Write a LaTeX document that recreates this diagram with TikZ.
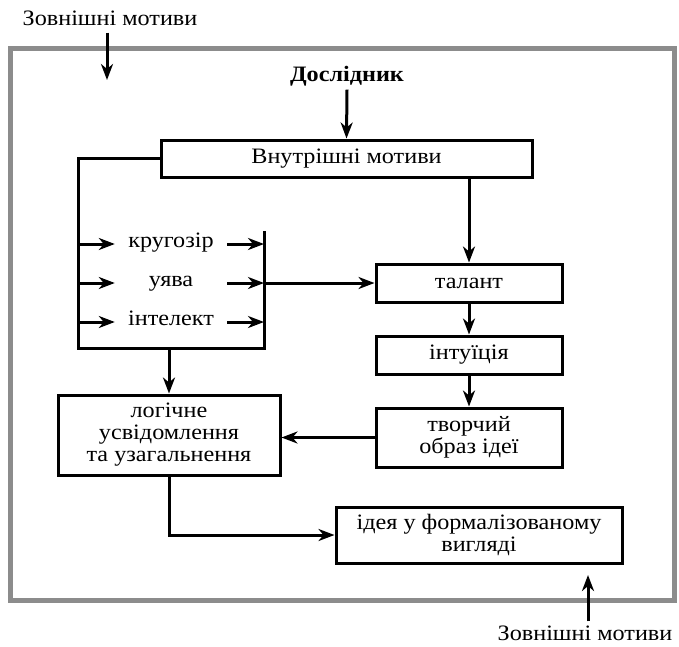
\documentclass[tikz,border=0pt]{standalone}
\usepackage{fontspec}
\setmainfont[FakeStretch=1.1]{Liberation Serif}
\usepackage{tikz}
\usetikzlibrary{arrows.meta, positioning, calc}

\tikzset{
  box/.style={draw, line width=3pt, align=center, inner sep=0pt},
  item/.style={minimum width=112pt, inner sep=0pt, text height=11pt, text depth=4pt},
  extlabel/.style={inner sep=1pt},
  link/.style={line width=3pt, -{Stealth[length=16pt,width=12pt,inset=5pt]}},
  wire/.style={line width=3pt}
}

\begin{document}
\begin{tikzpicture}[x=1pt,y=-1pt,font=\fontsize{22}{22}\selectfont]
\useasboundingbox (0,0) rectangle (679,646);
% Outer frame
\draw[line width=5pt,gray!90] (10,48) rectangle (674,600);
% External motives
\node[extlabel] (extTop) at (110,18) {Зовнішні мотиви};
\node[extlabel] (extBot) at (585,633) {Зовнішні мотиви};
\coordinate (topIn) at (107,80);
\coordinate (botIn) at (588,575);
\draw[link, shorten <=6pt] (extTop.south -| topIn) -- (topIn);
\draw[link, shorten <=3pt] (extBot.north -| botIn) -- (botIn);
% Researcher and inner motives
\node (res) at (347,76) {\bfseries Дослідник};
\node[box, minimum width=371pt, minimum height=37pt] (inner) at (346.5,158.5) {Внутрішні мотиви};
\draw[link] (res.south) -- (inner.north);
% Abilities
\node[item] (kr) at (171,244) {кругозір};
\node[item] (uv) at (171,283) {уява};
\node[item] (in) at (171,322) {інтелект};
\coordinate (busTop) at (78,158.5);
\coordinate (busBot) at (78,348);
\coordinate (barTop) at (264,231);
\coordinate (barBot) at (264,348);
\draw[wire] (inner.west) -- (busTop) -- (busBot) -- (barBot) -- (barTop);
\foreach \n in {kr,uv,in}{
  \draw[link] (\n.west -| busTop) -- (\n.west);
  \draw[link] (\n.east) -- (\n.east -| barTop);
}
% Right column
\node[box, minimum width=186pt, minimum height=38pt] (talant) at (469,283) {талант};
\node[box, minimum width=186pt, minimum height=38pt] (intu) at (469,355) {інтуїція};
\node[box, minimum width=186pt, minimum height=59pt] (image) at (469,437.5) {творчий\\образ ідеї};
\draw[link] (inner.south -| talant.north) -- (talant.north);
\draw[link] (uv.east -| barTop) -- (talant.west);
\draw[link] (talant) -- (intu);
\draw[link] (intu) -- (image);
% Left column
\node[box, minimum width=222pt, minimum height=80pt] (logic) at (169,435) {логічне\\усвідомлення\\та узагальнення};
\node[box, minimum width=286pt, minimum height=56pt] (idea) at (479,535) {ідея у формалізованому\\вигляді};
\draw[link] (logic.north |- busBot) -- (logic.north);
\draw[link] (image.west) -- (image.west -| logic.east);
\draw[link] (logic.south) |- (idea.west);
\end{tikzpicture}
\end{document}
